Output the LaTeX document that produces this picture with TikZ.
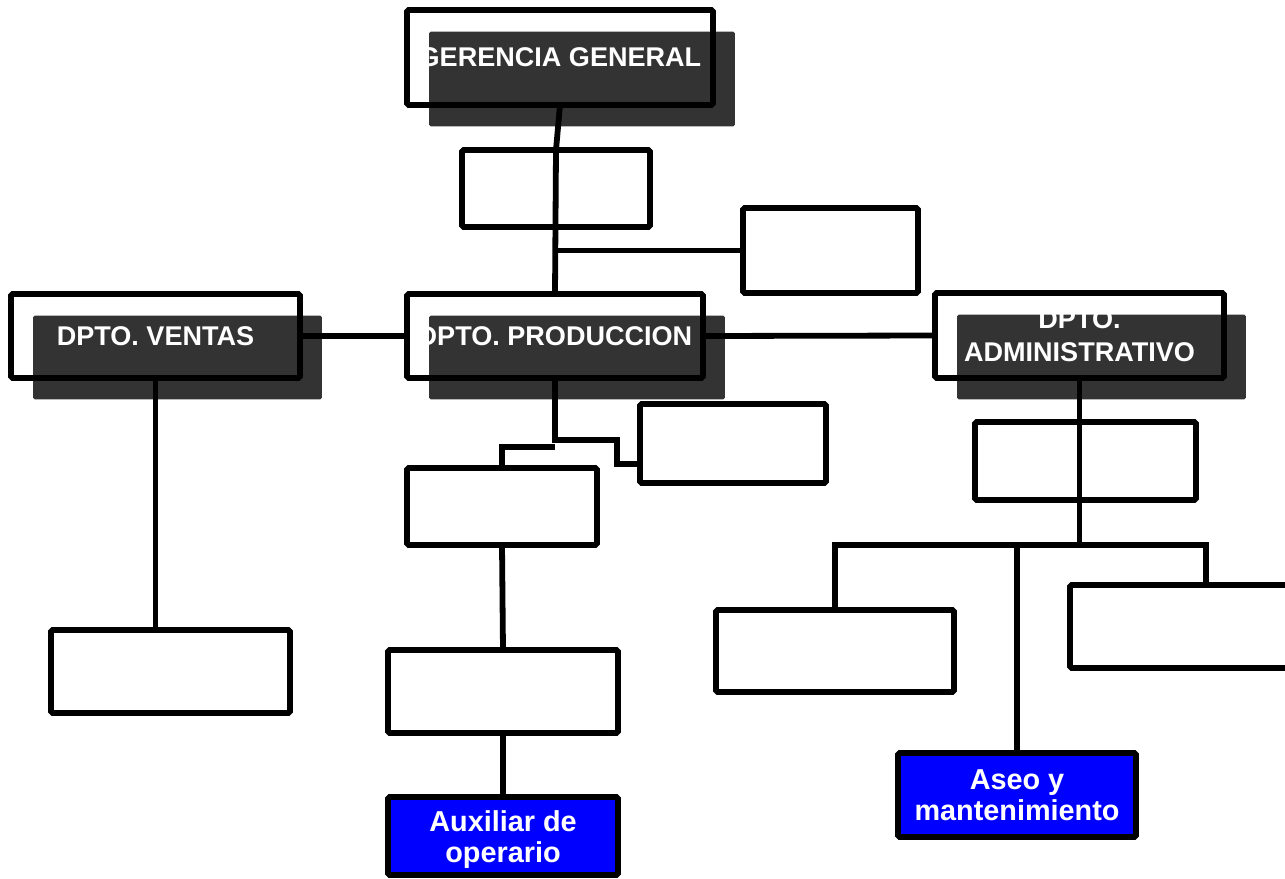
\documentclass[tikz,border=0pt]{standalone}
\usepackage{fontspec}
\setmainfont{Liberation Sans}
\usetikzlibrary{shadows}
\definecolor{sombra}{HTML}{333333}
\definecolor{azul}{HTML}{0000FF}
\tikzset{
  caja/.style={draw, line width=3.3pt, rounded corners=1pt, inner sep=0pt, outer sep=0pt},
  depto/.style={caja, text=white, align=center,
    font=\bfseries\fontsize{15.4}{19}\selectfont,
    drop shadow={shadow xshift=0.44cm, shadow yshift=-0.43cm, fill=sombra, opacity=1}},
  cajaazul/.style={caja, fill=azul, text=white, align=center,
    font=\bfseries\fontsize{16.4}{17.6}\selectfont},
  linea/.style={line width=3.3pt}
}

\begin{document}
\begin{tikzpicture}[x=0.02cm, y=-0.02cm]
    \useasboundingbox (0,0) rectangle (1285,879);
    \clip (0,0) rectangle (1285,879);

    % direccion y departamentos
    \node[depto, minimum width=6.12cm, minimum height=1.9cm] (gg) at (560,57.5) {GERENCIA GENERAL};
    \node[depto, minimum width=5.78cm, minimum height=1.68cm] (ventas) at (155.5,336) {DPTO. VENTAS};
    \node[depto, minimum width=5.92cm, minimum height=1.68cm] (prod) at (555,336) {DPTO. PRODUCCION};
    \node[depto, minimum width=5.78cm, minimum height=1.7cm] (admin) at (1079.5,335.5) {DPTO.\\ADMINISTRATIVO};

    % cajas sin texto visible
    \node[caja, minimum width=3.76cm, minimum height=1.54cm] (sec) at (556,188.5) {};
    \node[caja, minimum width=3.5cm, minimum height=1.7cm] (asist) at (830.5,250.5) {};
    \node[caja, minimum width=3.72cm, minimum height=1.58cm] (calid) at (733,443.5) {};
    \node[caja, minimum width=3.8cm, minimum height=1.54cm] (jefe) at (502,506.5) {};
    \node[caja, minimum width=4.78cm, minimum height=1.66cm] (vend) at (170.5,671.5) {};
    \node[caja, minimum width=4.6cm, minimum height=1.66cm] (oper) at (503,691.5) {};
    \node[caja, minimum width=4.42cm, minimum height=1.56cm] (rrhh) at (1085.5,461) {};
    \node[caja, minimum width=4.76cm, minimum height=1.64cm] (contab) at (835,651) {};
    \node[caja, minimum width=4.4cm, minimum height=1.66cm] (cart) at (1180,626.5) {};

    % cajas azules
    \node[cajaazul, minimum width=4.6cm, minimum height=1.56cm] (aux) at (503,836) {};
    \node[cajaazul, draw=none, fill=none] (auxtxt) at ([yshift=-0.08cm]aux.center) {Auxiliar de\\operario};
    \node[cajaazul, minimum width=4.76cm, minimum height=1.68cm] (aseo) at (1017,795) {Aseo y\\mantenimiento};

    % conexiones
    \draw[linea] (gg.south) -- (sec.north) -- (prod.north);
    \draw[linea] (asist.west) -- (asist.west -| sec.south);
    \draw[linea] (ventas.east) -- (prod.west);
    \draw[linea] (prod.east) -- (admin.west);
    \draw[linea] (ventas.south) -- (ventas.south |- vend.north);
    \draw[linea] (prod.south) -- ++(0,62) -- ++(62,0) |- ([yshift=-0.41cm]calid.west);
    \draw[linea] (prod.south) ++(0,69) -| (jefe.north);
    \draw[linea] (jefe.south) -- (oper.north);
    \draw[linea] (oper.south) -- (aux.north);
    \draw[linea] (admin.south) -- ++(0,167) coordinate (barra);
    \draw[linea] (contab.north) |- (barra) -| ([xshift=0.52cm]cart.north);
    \draw[linea] (barra -| aseo.north) -- (aseo.north);
\end{tikzpicture}
\end{document}
